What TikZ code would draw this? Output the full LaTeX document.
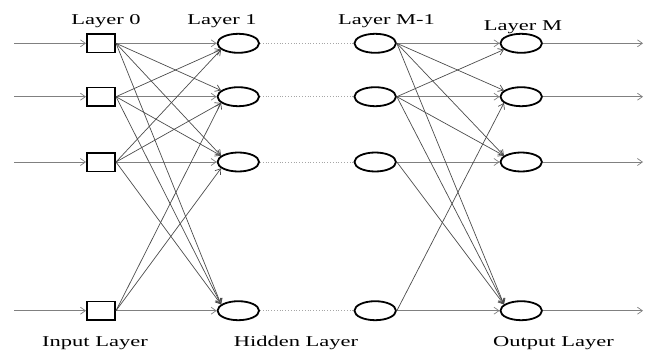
\documentclass[tikz,border=0pt]{standalone}
\usepackage{fontspec}
\setmainfont[FakeStretch=1.5]{Liberation Serif}
\usetikzlibrary{shapes.geometric,arrows.meta}
\begin{document}
\begin{tikzpicture}[x=1pt,y=-1pt,
  sq/.style={draw=black,line width=1.6pt,minimum width=28.4pt,minimum height=18.6pt,inner sep=0pt},
  neu/.style={draw=black,ellipse,line width=1.8pt,minimum width=41.5pt,minimum height=19pt,inner sep=0pt},
  lbl/.style={anchor=base,inner sep=0pt,font=\fontsize{15}{17}\selectfont},
  tip/.style={-{Straight Barb[length=5pt,width=7pt]}},
  hor/.style={draw=black!50,line width=0.7pt,tip},
  dia/.style={draw=black!70,line width=0.7pt,tip},
  dots/.style={draw=black!35,line width=0.8pt,dotted}]
\useasboundingbox (0,0) rectangle (646,351);
\foreach \i/\y in {1/43.3,2/96.7,3/162,4/310.7}{
  \node[sq] (s\i) at (101,\y) {};
  \node[neu] (e\i) at (238.3,\y) {};
  \node[neu] (m\i) at (375.2,\y) {};
  \node[neu] (o\i) at (521.2,\y) {};
  \coordinate (in\i) at (14,\y);
  \coordinate (out\i) at (643,\y);
}
% inputs, horizontals, outputs
\foreach \i in {1,2,3,4}{
  \draw[hor] (in\i) -- (s\i.west);
  \draw[hor] (s\i.east) -- (e\i.west);
  \draw[dots] (e\i.east) -- (m\i.west);
  \draw[hor] (m\i.east) -- (o\i.west);
  \draw[hor] (o\i.east) -- (out\i);
}
% Layer 0 -> Layer 1
\foreach \i/\j in {1/2,1/3,1/4,2/3,2/4,3/4}{
  \draw[dia] (s\i.east) -- (e\j.160);
}
\foreach \i/\j in {2/1,3/1,3/2,4/2,4/3}{
  \draw[dia] (s\i.east) -- (e\j.200);
}
% Layer M-1 -> Layer M
\foreach \i/\j in {1/2,1/3,1/4,2/3,2/4,3/4}{
  \draw[dia] (m\i.east) -- (o\j.160);
}
\foreach \i/\j in {2/1,4/2}{
  \draw[dia] (m\i.east) -- (o\j.200);
}
% labels
\node[lbl] (l0) at (106,24) {Layer 0};
\node[lbl] (l1) at (222,24) {Layer 1};
\node[lbl] (lm1) at (386.5,24) {Layer M-1};
\node[lbl] (lm) at (523,30) {Layer M};
\node[lbl] (li) at (95,346.5) {Input Layer};
\node[lbl] (lh) at (296,346.5) {Hidden Layer};
\node[lbl] (lo) at (553.5,346.5) {Output Layer};
\end{tikzpicture}
\end{document}
